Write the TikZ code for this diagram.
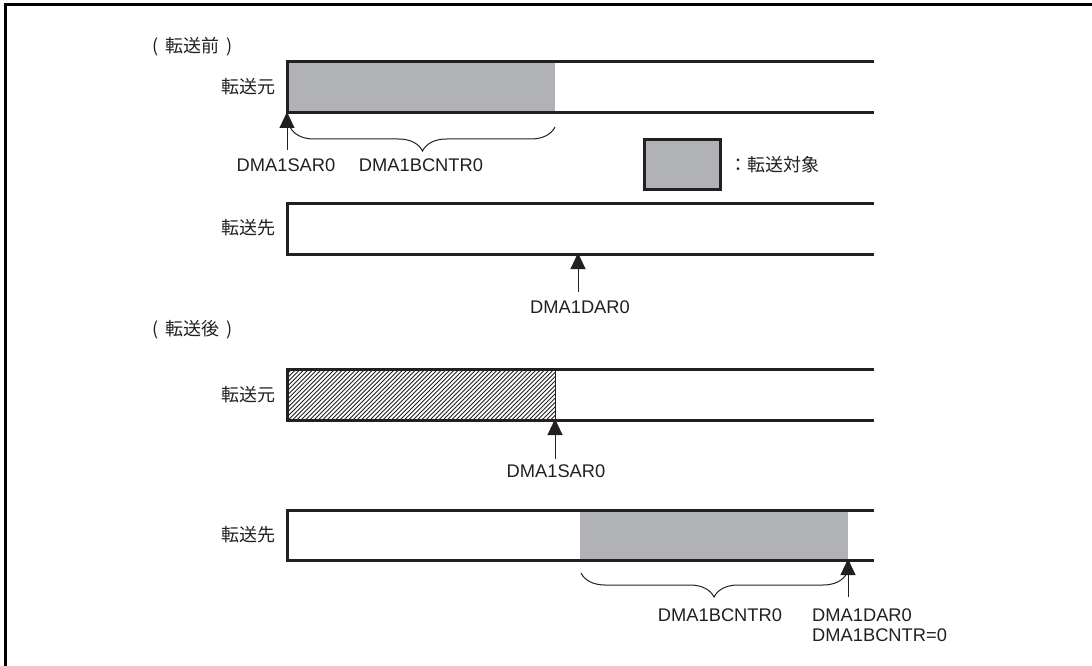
\documentclass[tikz,border=0pt]{standalone}
\usepackage{fontspec}
\setmainfont{Liberation Sans}
\newfontfamily\jp{Noto Sans CJK JP}
\usetikzlibrary{arrows.meta,decorations.pathreplacing}
\definecolor{inkc}{RGB}{35,31,32}
\definecolor{fillg}{RGB}{176,178,181}
\begin{document}
\begin{tikzpicture}[x=1pt,y=-1pt,
  barline/.style={draw=inkc,line width=3pt},
  lbl/.style={inner sep=0pt,font=\fontsize{18.3}{21}\selectfont,text=inkc},
  jlbl/.style={inner sep=0pt,font=\jp\fontsize{18}{21}\selectfont,text=inkc},
  ptr/.style={draw=inkc,line width=1pt,-{Triangle[width=15pt,length=16pt]}},
  brc/.style={draw=inkc,line width=1pt,decorate,decoration={brace,amplitude=24pt}},
  frame/.style={draw=black,line width=3pt}]
\useasboundingbox (0,0) rectangle (1092,666);
% frame
\coordinate (fA) at (5,670);
\coordinate (fB) at (5,5);
\coordinate (fC) at (1095,5);
\draw[frame] (fA) -- (fB) -- (fC);

% ---------- before ----------
\node[jlbl,anchor=west] (tBefore) at (152,47) {(\hspace{7pt}転送前\hspace{7pt})};

% source bar (before)
\fill[fillg] (288,62) rectangle (555,113);
\coordinate (s1tl) at (287,62);
\coordinate (s1bl) at (287,113);
\coordinate (s1tr) at (874,62);
\coordinate (s1br) at (874,113);
\draw[barline] (s1tr) -- (s1tl) -- (s1bl) -- (s1br);
\node[jlbl,anchor=east] (src1) at (276,87) {転送元};

\coordinate (a1tail) at (287,150);
\coordinate (a1tip) at (287,112);
\draw[ptr] (a1tail) -- (a1tip);
\coordinate (b1r) at (555,127);
\coordinate (b1l) at (290,127);
\draw[brc] (b1r) -- (b1l);
\node[lbl] (sar1) at (286,165) {DMA1SAR0};
\node[lbl] (bc1) at (421,165) {DMA1BCNTR0};

% legend
\node[draw=inkc,line width=3pt,fill=fillg,minimum width=76pt,minimum height=50pt,inner sep=0pt] (leg) at (682.5,164.5) {};
\node[jlbl,anchor=west] (legt) at (729,165) {：転送対象};

% destination bar (before)
\coordinate (d1tl) at (287,203);
\coordinate (d1bl) at (287,254);
\coordinate (d1tr) at (874,203);
\coordinate (d1br) at (874,254);
\draw[barline] (d1tr) -- (d1tl) -- (d1bl) -- (d1br);
\node[jlbl,anchor=east] (dst1) at (276,228) {転送先};
\coordinate (a2tail) at (578,292);
\coordinate (a2tip) at (578,253);
\draw[ptr] (a2tail) -- (a2tip);
\node[lbl] (dar1) at (580,307) {DMA1DAR0};

% ---------- after ----------
\node[jlbl,anchor=west] (tAfter) at (152,330) {(\hspace{7pt}転送後\hspace{7pt})};

% source bar (after) with hatching
\begin{scope}
\clip (288,369) rectangle (555,420);
\foreach \i in {0,4.3,...,330}{
  \draw[inkc,line width=0.9pt] (288+\i-60,420) -- (288+\i,360);
}
\end{scope}
\coordinate (s2tl) at (287,369);
\coordinate (s2bl) at (287,420);
\coordinate (s2tr) at (874,369);
\coordinate (s2br) at (874,420);
\coordinate (s2hr) at (555,369);
\coordinate (s2hb) at (555,420);
\draw[inkc,line width=0.8pt] (s2hr) -- (s2hb);
\draw[barline] (s2tr) -- (s2tl) -- (s2bl) -- (s2br);
\node[jlbl,anchor=east] (src2) at (276,395) {転送元};
\coordinate (a3tail) at (555,459);
\coordinate (a3tip) at (555,419);
\draw[ptr] (a3tail) -- (a3tip);
\node[lbl] (sar2) at (556,471) {DMA1SAR0};

% destination bar (after)
\fill[fillg] (580,510) rectangle (848,560);
\coordinate (d2tl) at (287,510);
\coordinate (d2bl) at (287,560);
\coordinate (d2tr) at (874,510);
\coordinate (d2br) at (874,560);
\draw[barline] (d2tr) -- (d2tl) -- (d2bl) -- (d2br);
\node[jlbl,anchor=east] (dst2) at (276,535) {転送先};
\coordinate (b2r) at (847,573);
\coordinate (b2l) at (581,573);
\draw[brc] (b2r) -- (b2l);
\coordinate (a4tail) at (848,597);
\coordinate (a4tip) at (848,559);
\draw[ptr] (a4tail) -- (a4tip);
\node[lbl] (bc2) at (720,615) {DMA1BCNTR0};
\node[lbl,anchor=west] (dar2) at (812,615) {DMA1DAR0};
\node[lbl,anchor=west] (bcz) at (812,635) {DMA1BCNTR=0};
\end{tikzpicture}
\end{document}
